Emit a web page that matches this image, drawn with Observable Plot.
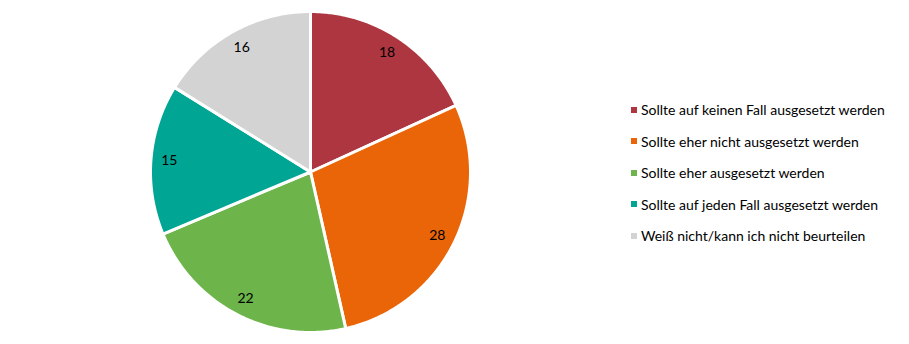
<!DOCTYPE html>
<html>
<head>
<meta charset="utf-8">
<script src="https://cdn.jsdelivr.net/npm/d3@7"></script>
<script src="https://cdn.jsdelivr.net/npm/@observablehq/plot@0.6"></script>
<style>
  body { margin: 0; background: #fff; }
  #wrap { position: relative; width: 909px; height: 344px; font-family: Lato, "Open Sans", sans-serif; }
  #legend { position: absolute; left: 631px; top: 94px; }
  .item { height: 31.5px; display: flex; align-items: center; font-size: 14px; color: #000; white-space: nowrap; }
  .sw { width: 6px; height: 6px; margin-right: 4px; }
</style>
</head>
<body>
<div id="wrap"><div id="chart"></div><div id="legend"></div></div>
<script>
const categories = [
  "Sollte auf keinen Fall ausgesetzt werden",
  "Sollte eher nicht ausgesetzt werden",
  "Sollte eher ausgesetzt werden",
  "Sollte auf jeden Fall ausgesetzt werden",
  "Weiß nicht/kann ich nicht beurteilen"
];
const values = [18, 28, 22, 15, 16];
const colors = ["#AE3640", "#EA6508", "#6DB54A", "#00A594", "#D3D3D3"];

const arcs = d3.pie().sort(null).value(d => d.value)(
  categories.map((c, i) => ({category: c, value: values[i]}))
);

const slicePts = [];
arcs.forEach(a => {
  const c = a.data.category;
  slicePts.push({category: c, x: 0, y: 0});
  const n = Math.max(2, Math.ceil((a.endAngle - a.startAngle) / 0.01));
  for (let k = 0; k <= n; k++) {
    const t = a.startAngle + (a.endAngle - a.startAngle) * k / n;
    slicePts.push({category: c, x: Math.sin(t), y: Math.cos(t)});
  }
});
const labels = arcs.map(a => {
  const m = (a.startAngle + a.endAngle) / 2;
  return {label: String(a.data.value), x: 0.885 * Math.sin(m), y: 0.885 * Math.cos(m)};
});

const chart = Plot.plot({
  width: 909,
  height: 344,
  marginLeft: 150,
  marginRight: 439,
  marginTop: 11,
  marginBottom: 12,
  x: {domain: [-1, 1], axis: null},
  y: {domain: [-1, 1], axis: null},
  color: {domain: categories, range: colors, legend: false},
  style: {fontFamily: "Lato, 'Open Sans', sans-serif", background: "#fff"},
  marks: [
    Plot.line(slicePts, {x: "x", y: "y", z: "category", fill: "category", stroke: "#fff", strokeWidth: 3, curve: "linear-closed"}),
    Plot.text(labels, {x: "x", y: "y", text: "label", fill: "#000", fontSize: 14})
  ]
});
document.getElementById("chart").append(chart);

const legend = document.getElementById("legend");
categories.forEach((c, i) => {
  const item = document.createElement("div");
  item.className = "item";
  const sw = document.createElement("span");
  sw.className = "sw";
  sw.style.background = colors[i];
  const tx = document.createElement("span");
  tx.textContent = c;
  item.append(sw, tx);
  legend.append(item);
});
</script>
</body>
</html>
